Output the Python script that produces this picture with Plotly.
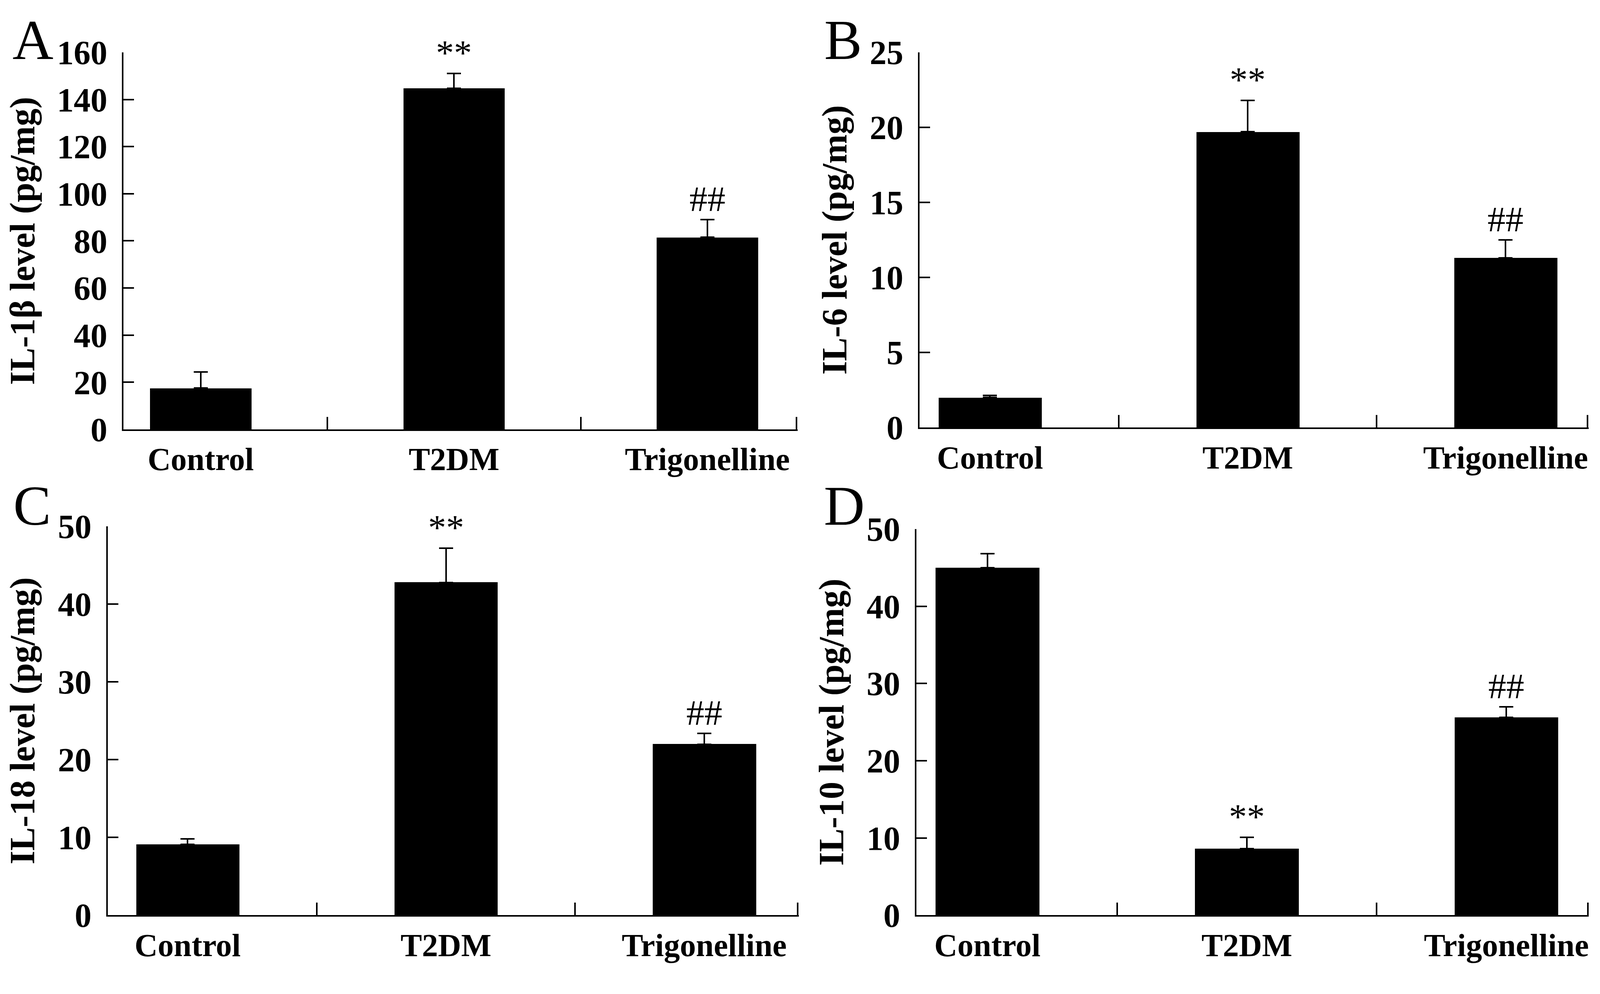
import plotly.graph_objects as go

# Groups on the x axis
groups = ["Control", "T2DM", "Trigonelline"]

# Cytokine levels (pg/mg), mean and SEM
il1b_mean = [17.5, 144.7, 81.5]
il1b_sem = [6.8, 6.4, 7.6]
il6_mean = [2.0, 19.7, 11.3]
il6_sem = [0.15, 2.1, 1.2]
il18_mean = [9.1, 42.8, 22.0]
il18_sem = [0.7, 4.4, 1.4]
il10_mean = [45.0, 8.6, 25.6]
il10_sem = [1.8, 1.5, 1.4]

# Significance marks above each bar
il1b_marks = ["", "**", "##"]
il6_marks = ["", "**", "##"]
il18_marks = ["", "**", "##"]
il10_marks = ["", "**", "##"]

# the browser is capped at 4096 px wide, so the figure fills 4096x2544
# and the layout is given as fractions of the reference (5160x2544)
RW, RH = 5160, 2544
W, H = 4096, 2544
FONT = "Liberation Serif"
LW = 4

panels = [
    dict(mean=il1b_mean, sem=il1b_sem, marks=il1b_marks, ytitle="IL-1β level (pg/mg)",
         ymax=160, dtick=20, letter="A",
         xdom=[388 / RW, 2562 / RW], ydom=[1 - 1085 / RH, 1 - 82 / RH],
         xr=[-0.305, 2.356], lx=28 / RW, ly=1 - 5 / RH, tstand=36),
    dict(mean=il6_mean, sem=il6_sem, marks=il6_marks, ytitle="IL-6 level (pg/mg)",
         ymax=25, dtick=5, letter="B",
         xdom=[2955 / RW, 5113 / RW], ydom=[1 - 1080 / RH, 1 - 82 / RH],
         xr=[-0.274, 2.322], lx=2645 / RW, ly=1 - 5 / RH, tstand=30),
    dict(mean=il18_mean, sem=il18_sem, marks=il18_marks, ytitle="IL-18 level (pg/mg)",
         ymax=50, dtick=10, letter="C",
         xdom=[337 / RW, 2566 / RW], ydom=[1 - 2377 / RH, 1 - 1343 / RH],
         xr=[-0.31, 2.366], lx=30 / RW, ly=1 - 1244 / RH, tstand=32),
    dict(mean=il10_mean, sem=il10_sem, marks=il10_marks, ytitle="IL-10 level (pg/mg)",
         ymax=50, dtick=10, letter="D",
         xdom=[2945 / RW, 5114 / RW], ydom=[1 - 2377 / RH, 1 - 1350 / RH],
         xr=[-0.274, 2.318], lx=2644 / RW, ly=1 - 1244 / RH, tstand=30),
]

fig = go.Figure()
annotations = []
layout = {}

for i, p in enumerate(panels):
    n = "" if i == 0 else str(i + 1)
    xa, ya = "x" + n, "y" + n
    pos = list(range(len(groups)))

    fig.add_trace(go.Bar(
        x=pos, y=p["mean"], width=0.4, xaxis=xa, yaxis=ya,
        marker=dict(color="black", line=dict(width=0)),
        error_y=dict(type="data", symmetric=False, array=p["sem"],
                     arrayminus=[0] * len(groups), color="black",
                     thickness=4, width=18),
        showlegend=False,
    ))

    layout["xaxis" + n] = dict(
        domain=p["xdom"], anchor=ya, range=p["xr"],
        tickmode="array", tickvals=pos, ticktext=groups, ticks="",
        tickfont=dict(family=FONT, size=82, color="black", weight="bold"),
        ticklabelstandoff=2,
        showline=True, linewidth=LW, linecolor="black",
        showgrid=False, zeroline=False,
        minor=dict(tickmode="array", tickvals=[0.5, 1.5, p["xr"][1] - 0.004],
                   ticks="inside", ticklen=32, tickwidth=LW, tickcolor="black"),
    )
    layout["yaxis" + n] = dict(
        domain=p["ydom"], anchor=xa, range=[0, p["ymax"]],
        tickmode="linear", tick0=0, dtick=p["dtick"],
        ticks="inside", ticklen=27, tickwidth=LW, tickcolor="black",
        tickfont=dict(family=FONT, size=86, color="black", weight="bold"),
        ticklabelstandoff=20,
        showline=True, linewidth=LW, linecolor="black",
        showgrid=False, zeroline=False,
        title=dict(text=p["ytitle"], standoff=p["tstand"],
                   font=dict(family=FONT, size=90, color="black", weight="bold")),
    )

    # significance marks sit just above the error bar caps
    for j, m in enumerate(p["marks"]):
        if m:
            annotations.append(dict(
                x=j, y=p["mean"][j] + p["sem"][j], xref=xa, yref=ya,
                text=m, showarrow=False, yanchor="bottom", yshift=0,
                font=dict(family=FONT, size=92, color="black"),
            ))

    # panel letter
    annotations.append(dict(
        x=p["lx"], y=p["ly"], xref="paper", yref="paper",
        xanchor="left", yanchor="top", yshift=40, text=p["letter"], showarrow=False,
        font=dict(family=FONT, size=145, color="black"),
    ))

fig.update_layout(
    width=W, height=H,
    margin=dict(l=0, r=0, t=0, b=0),
    paper_bgcolor="white", plot_bgcolor="white",
    annotations=annotations,
    bargap=0,
    **layout,
)

fig.write_html("out.html")
